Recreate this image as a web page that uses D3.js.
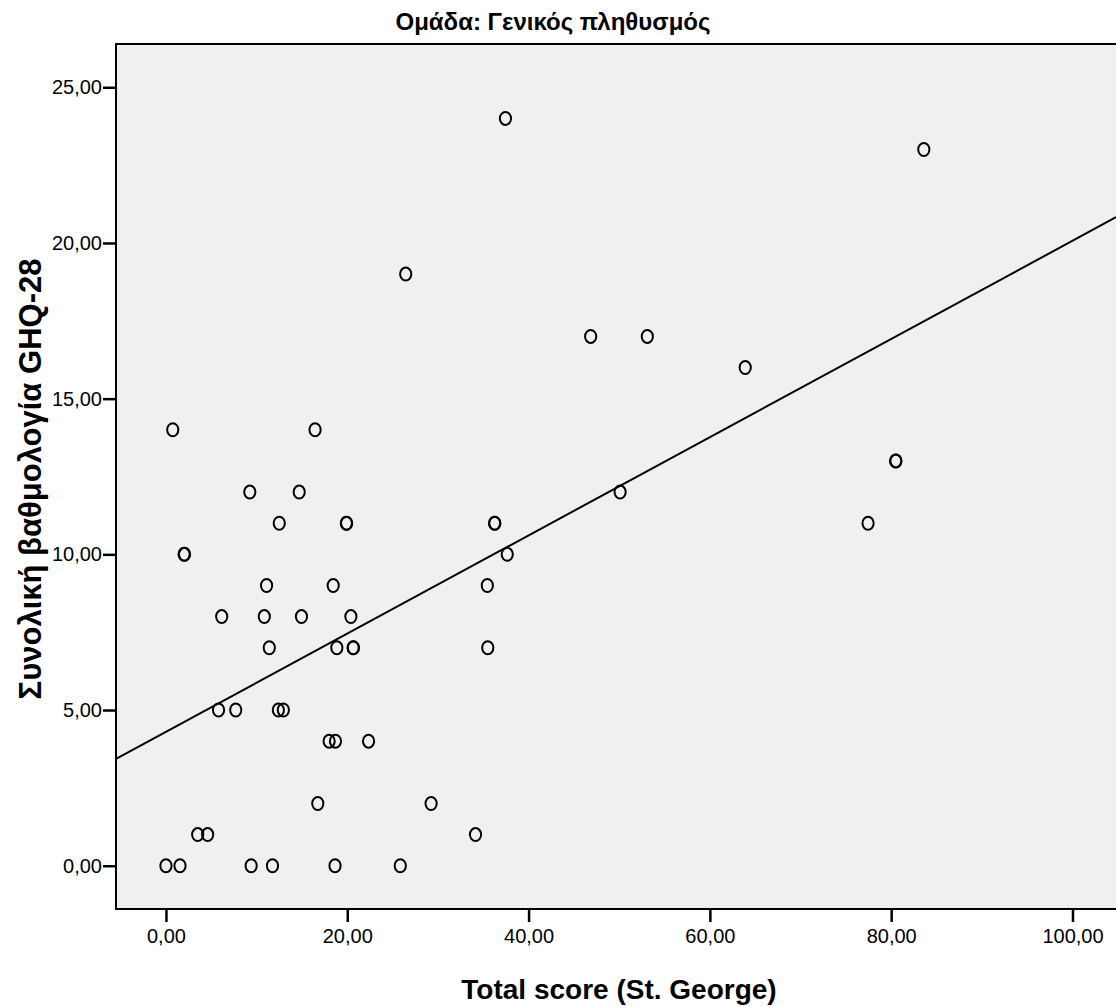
<!DOCTYPE html>
<html>
<head>
<meta charset="utf-8">
<script src="https://cdn.jsdelivr.net/npm/d3@7"></script>
<style>
  body { margin: 0; background: #fff; }
  text { font-family: "Liberation Sans", Arial, sans-serif; }
</style>
</head>
<body>
<svg id="chart" width="1116" height="1007"></svg>
<script>
// St. George total score (x) against GHQ-28 total (y)
var stGeorge = [0.0, 1.55, 3.5, 4.6, 9.4, 11.75, 18.65, 25.85, 0.75, 2.0, 2.05, 6.15, 5.8, 7.7,
  9.25, 10.85, 11.1, 11.4, 12.5, 12.4, 12.95, 14.7, 14.95, 16.45, 16.75, 18.0, 18.7, 18.45,
  18.85, 19.9, 19.93, 20.4, 20.65, 20.68, 22.35, 26.45, 29.25, 34.15, 35.45, 35.5, 36.25,
  36.28, 37.65, 37.45, 46.85, 50.1, 53.1, 63.9, 77.45, 80.5, 80.52, 83.6];
var ghq = [0, 0, 1, 1, 0, 0, 0, 0, 14, 10, 10, 8, 5, 5,
  12, 8, 9, 7, 11, 5, 5, 12, 8, 14, 2, 4, 4, 9,
  7, 11, 11, 8, 7, 7, 4, 19, 2, 1, 9, 7, 11,
  11, 10, 24, 17, 12, 17, 16, 11, 13, 13, 23];

var xTicks = [0, 20, 40, 60, 80, 100];
var yTicks = [0, 5, 10, 15, 20, 25];

// fit line as drawn in the original output
var fitIntercept = 4.30;
var fitSlope = 0.1577;

var svg = d3.select('#chart');
var plotLeft = 116, plotRight = 1116, plotTop = 44, plotBottom = 909;

var x = d3.scaleLinear().domain([-5.51, 104.8]).range([plotLeft, plotRight]);
var y = d3.scaleLinear().domain([-1.39, 26.39]).range([plotBottom, plotTop]);
var fmt = function (d) { return d3.format('.2f')(d).replace('.', ','); };

svg.append('rect')
  .attr('x', plotLeft).attr('y', plotTop)
  .attr('width', plotRight - plotLeft + 20).attr('height', plotBottom - plotTop)
  .attr('fill', '#f0f0f0')
  .attr('stroke', '#000')
  .attr('stroke-width', 2);

var xAxis = svg.append('g')
  .attr('transform', 'translate(0,' + plotBottom + ')')
  .call(d3.axisBottom(x).tickValues(xTicks).tickFormat(fmt).tickSize(13).tickPadding(7));
var yAxis = svg.append('g')
  .attr('transform', 'translate(' + plotLeft + ',0)')
  .call(d3.axisLeft(y).tickValues(yTicks).tickFormat(fmt).tickSize(13).tickPadding(1));

[xAxis, yAxis].forEach(function (ax) {
  ax.select('.domain').remove();
  ax.selectAll('.tick line').attr('stroke', '#000').attr('stroke-width', 2.5);
  ax.selectAll('.tick text')
    .attr('fill', '#000')
    .style('font-size', '20px')
    .style('font-family', '"Liberation Sans", Arial, sans-serif');
});

// regression line, clipped to the plot frame
svg.append('clipPath').attr('id', 'plotClip')
  .append('rect').attr('x', plotLeft).attr('y', plotTop)
  .attr('width', plotRight - plotLeft).attr('height', plotBottom - plotTop);

svg.append('line')
  .attr('clip-path', 'url(#plotClip)')
  .attr('x1', x(-5.51)).attr('y1', y(fitIntercept + fitSlope * -5.51))
  .attr('x2', x(104.8)).attr('y2', y(fitIntercept + fitSlope * 104.8))
  .attr('stroke', '#000')
  .attr('stroke-width', 2);

svg.append('g').selectAll('ellipse')
  .data(d3.range(stGeorge.length))
  .enter().append('ellipse')
  .attr('cx', function (i) { return x(stGeorge[i]); })
  .attr('cy', function (i) { return y(ghq[i]); })
  .attr('rx', 5.6)
  .attr('ry', 6.5)
  .attr('fill', 'none')
  .attr('stroke', '#000')
  .attr('stroke-width', 2);

svg.append('text')
  .attr('x', 553).attr('y', 30)
  .attr('text-anchor', 'middle')
  .style('font-size', '24px').style('font-weight', 'bold')
  .text('Ομάδα: Γενικός πληθυσμός');

svg.append('text')
  .attr('x', 619).attr('y', 999)
  .attr('text-anchor', 'middle')
  .style('font-size', '28px').style('font-weight', 'bold')
  .text('Total score (St. George)');

svg.append('text')
  .attr('transform', 'translate(41,479) rotate(-90)')
  .attr('text-anchor', 'middle')
  .style('font-size', '31px').style('font-weight', 'bold')
  .text('Συνολική βαθμολογία GHQ-28');
</script>
</body>
</html>
